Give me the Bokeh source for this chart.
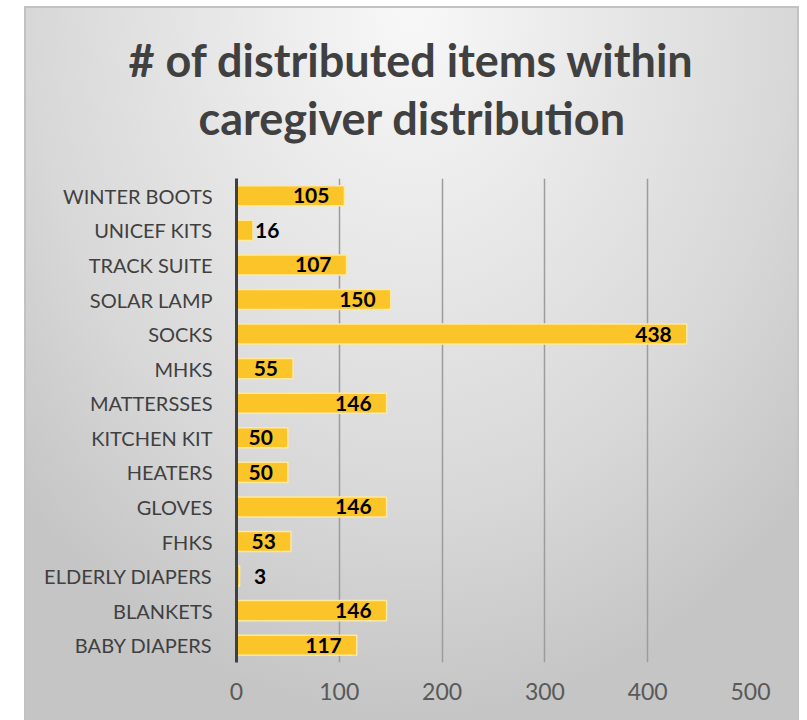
from bokeh.plotting import figure
from bokeh.models import ColumnDataSource, FactorRange, Range1d, Title, InlineStyleSheet, FixedTicker
from bokeh.core.properties import value
from bokeh.embed import file_html
from bokeh.resources import INLINE

# Data (bottom to top, as drawn)
categories = ["BABY DIAPERS", "BLANKETS", "ELDERLY DIAPERS", "FHKS", "GLOVES", "HEATERS",
              "KITCHEN KIT", "MATTERSSES", "MHKS", "SOCKS", "SOLAR LAMP", "TRACK SUITE",
              "UNICEF KITS", "WINTER BOOTS"]
counts = [117, 146, 3, 53, 146, 50, 50, 146, 55, 438, 150, 107, 16, 105]
x_ticks = [0, 100, 200, 300, 400, 500]
title_lines = ["# of distributed items within", "caregiver distribution"]

FONT = "Lato"

W, H = 807, 720
p = figure(width=W, height=H, output_backend="svg", toolbar_location=None,
           y_range=FactorRange(factors=categories, range_padding=0),
           x_range=Range1d(0, 500))
p.min_border_left = 236
p.min_border_right = 57
p.min_border_top = 178
p.min_border_bottom = 58
p.background_fill_alpha = 0
p.border_fill_alpha = 0
p.outline_line_color = None
p.stylesheets = [InlineStyleSheet(css=""":host {
  background:
    radial-gradient(ellipse 70% 100% at 50% 0%, #f8f8f8 0%, #d8d8d8 70%, #c5c5c5 100%) 26px 8px / 771px 712px no-repeat,
    linear-gradient(#c2c2c2, #c2c2c2) 24px 6px / 775px 714px no-repeat,
    #ffffff;
}""")]

src = ColumnDataSource(dict(
    cat=categories,
    val=counts,
    lx=[v if v >= 40 else max(v, 15) for v in counts],
    align=["right" if v >= 40 else "left" for v in counts],
    off=[-15 if v >= 40 else 2 for v in counts],
    txt=[str(v) for v in counts],
))

p.hbar(y="cat", right="val", left=0, height=0.58, source=src,
       fill_color="#fbc52a", line_color="#fde9a0", line_width=1.5)

p.text(x="lx", y="cat", text="txt", source=src, text_align="align", x_offset="off",
       text_baseline="middle", text_font=value(FONT), text_font_style="bold",
       text_font_size="21px", text_color="#000000")

# axes
p.yaxis.axis_line_color = "#404040"
p.yaxis.axis_line_width = 3
p.yaxis.major_tick_line_color = None
p.yaxis.minor_tick_line_color = None
p.yaxis.major_label_text_font = FONT
p.yaxis.major_label_text_font_size = "20px"
p.yaxis.major_label_text_color = "#404040"
p.yaxis.major_label_standoff = 18

p.xaxis.axis_line_color = None
p.xaxis.major_tick_line_color = None
p.xaxis.minor_tick_line_color = None
p.xaxis.ticker = FixedTicker(ticks=x_ticks)
p.xaxis.major_label_text_font = FONT
p.xaxis.major_label_text_font_size = "23px"
p.xaxis.major_label_text_color = "#595959"
p.xaxis.major_label_standoff = 14

p.ygrid.grid_line_color = None
p.xgrid.grid_line_color = "#9c9c9c"
p.xgrid.grid_line_width = 1.5
p.xgrid.ticker = FixedTicker(ticks=x_ticks)

# title lines (added nearest-first: later titles stack farther from the frame)
p.add_layout(Title(text=" ", standoff=0, text_font_size="27px"), "above")  # spacing
p.add_layout(Title(text=title_lines[1], align="left", offset=-38, standoff=4,
                   text_font=FONT, text_font_style="bold", text_font_size="45px",
                   text_color="#404040"), "above")
p.add_layout(Title(text=title_lines[0], align="left", offset=-108, standoff=0,
                   text_font=FONT, text_font_style="bold", text_font_size="45px",
                   text_color="#404040"), "above")

open("out.html", "w").write(file_html(p, INLINE))
